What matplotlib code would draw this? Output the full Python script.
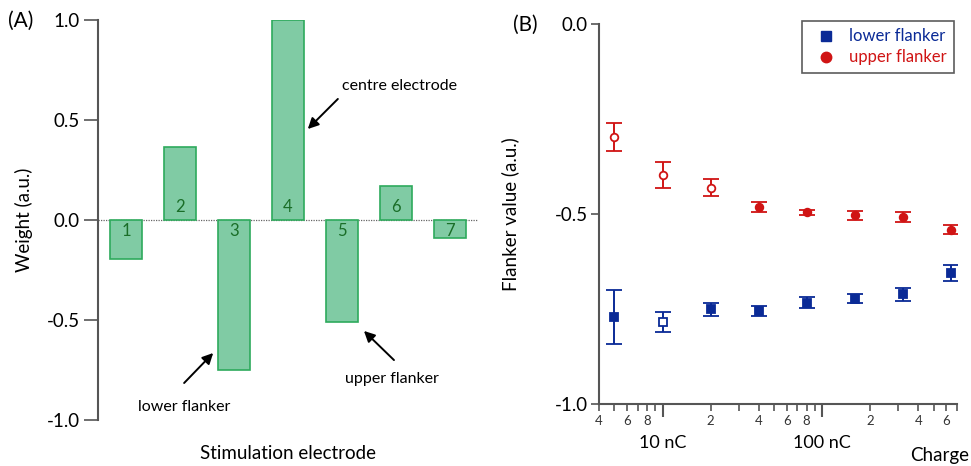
import numpy as np
import matplotlib.pyplot as plt

plt.rcParams['font.family'] = ['Lato', 'DejaVu Sans']

# Panel A data
electrodes = [1, 2, 3, 4, 5, 6, 7]
weights = [-0.195, 0.365, -0.75, 1.0, -0.51, 0.17, -0.09]

# Panel B data
charge = [5, 10, 20, 40, 80, 160, 320, 640]
upper = [-0.297, -0.397, -0.431, -0.482, -0.496, -0.503, -0.508, -0.541]
upper_err = [0.037, 0.035, 0.022, 0.013, 0.007, 0.012, 0.014, 0.011]
upper_open = [True, True, True, False, False, False, False, False]
lower = [-0.771, -0.785, -0.751, -0.756, -0.733, -0.723, -0.711, -0.656]
lower_err = [0.071, 0.026, 0.018, 0.013, 0.015, 0.012, 0.017, 0.021]
lower_open = [False, True, False, False, False, False, False, False]

minor_pos = [4, 5, 6, 7, 8, 9, 20, 30, 40, 50, 60, 70, 80, 90, 200, 300, 400, 500, 600, 700]
minor_lab = ['4', '', '6', '', '8', '', '2', '', '4', '', '6', '', '8', '', '2', '', '4', '', '6', '']
major_pos = [10, 100]
major_lab = ['10 nC', '100 nC']

bar_face = '#80cba4'
bar_edge = '#2eaa5c'
num_col = '#1a6e28'
red = '#d01414'
blue = '#0a2a96'
spine_col = '#555555'

fig = plt.figure(figsize=(9.71, 4.66), dpi=100)

# ---- (A) ----
axA = fig.add_axes([0.1009, 0.0987, 0.3914, 0.8584])
axA.bar(electrodes, weights, width=0.59, color=bar_face, edgecolor=bar_edge, linewidth=1.2)
axA.axhline(0, color='#666666', linestyle=(0, (1, 1)), linewidth=0.9, zorder=0)
for e, w in zip(electrodes, weights):
    if w > 0:
        axA.text(e, 0.025, str(e), ha='center', va='bottom', fontsize=12, color=num_col)
    else:
        axA.text(e, -0.015, str(e), ha='center', va='top', fontsize=12, color=num_col)
axA.set_xlim(0.48, 7.52)
axA.set_ylim(-1.0, 1.0)
axA.set_yticks([-1.0, -0.5, 0.0, 0.5, 1.0])
axA.set_yticklabels(['-1.0', '-0.5', '0.0', '0.5', '1.0'])
axA.set_xticks([])
for s in ['top', 'right', 'bottom']:
    axA.spines[s].set_visible(False)
axA.spines['left'].set_color(spine_col)
axA.spines['left'].set_linewidth(1.5)
axA.tick_params(axis='y', direction='out', length=10, width=1.2, color=spine_col,
                labelsize=13.5, pad=3)
axA.set_ylabel('Weight (a.u.)', fontsize=13.5, labelpad=10)
fig.text(0.297, 0.026, 'Stimulation electrode', fontsize=13.5, ha='center', va='center')

arrow = dict(arrowstyle='-|>', color='black', lw=1.4, mutation_scale=16)
axA.annotate('', xy=(4.33, 0.445), xytext=(4.96, 0.615), arrowprops=arrow)
axA.text(5.0, 0.67, 'centre electrode', fontsize=11.5, ha='left', va='center')
axA.annotate('', xy=(2.65, -0.655), xytext=(2.04, -0.825), arrowprops=arrow)
axA.text(1.22, -0.935, 'lower flanker', fontsize=11.5, ha='left', va='center')
axA.annotate('', xy=(5.37, -0.545), xytext=(6.0, -0.71), arrowprops=arrow)
axA.text(5.05, -0.795, 'upper flanker', fontsize=11.5, ha='left', va='center')
fig.text(0.008, 0.955, '(A)', fontsize=15, va='center', ha='left')

# ---- (B) ----
axB = fig.add_axes([0.6169, 0.1330, 0.3687, 0.8155])
for xs, ys, es, op, col, mk in [(charge, upper, upper_err, upper_open, red, 'o'),
                                 (charge, lower, lower_err, lower_open, blue, 's')]:
    for x, y, e, o in zip(xs, ys, es, op):
        axB.errorbar(x, y, yerr=e, fmt=mk, color=col, markersize=5.5,
                     markerfacecolor='white' if o else col, markeredgecolor=col,
                     markeredgewidth=1.3, ecolor=col, elinewidth=1.4, capsize=6, capthick=1.4)
# legend handles
axB.plot([], [], 's', color=blue, markersize=7.5, label='lower flanker')
axB.plot([], [], 'o', color=red, markersize=7.5, label='upper flanker')
leg = axB.legend(loc='upper right', bbox_to_anchor=(1.015, 1.03), fontsize=12,
                 frameon=True, fancybox=False, edgecolor='#333333', handletextpad=0.35,
                 borderpad=0.45, labelspacing=0.3, handlelength=2.0)
leg.get_frame().set_linewidth(1.2)
for t, c in zip(leg.get_texts(), [blue, red]):
    t.set_color(c)

axB.set_xscale('log')
axB.set_xlim(4, 700)
axB.set_ylim(-1.0, 0.0)
axB.set_yticks([-1.0, -0.5, 0.0])
axB.set_yticklabels(['-1.0', '-0.5', '0.0'])
axB.set_xticks(major_pos)
axB.set_xticklabels(major_lab)
axB.set_xticks(minor_pos, minor=True)
axB.set_xticklabels(minor_lab, minor=True)
for s in ['top', 'right']:
    axB.spines[s].set_visible(False)
for s in ['left', 'bottom']:
    axB.spines[s].set_color(spine_col)
    axB.spines[s].set_linewidth(1.5)
axB.tick_params(axis='y', direction='out', length=6, width=1.2, color=spine_col,
                labelsize=13.5, pad=2)
axB.tick_params(axis='x', which='major', direction='out', length=9, width=1.5,
                color=spine_col, labelsize=13, pad=13)
axB.tick_params(axis='x', which='minor', direction='out', length=5, width=1.2,
                color=spine_col, labelsize=9.5, pad=3, labelcolor='#333333')
axB.set_ylabel('Flanker value (a.u.)', fontsize=13.5, labelpad=26)
fig.text(0.937, 0.023, 'Charge', fontsize=13.5, va='center', ha='left')
fig.text(0.528, 0.947, '(B)', fontsize=15, va='center', ha='left')

fig.savefig('out.png', dpi=100)
